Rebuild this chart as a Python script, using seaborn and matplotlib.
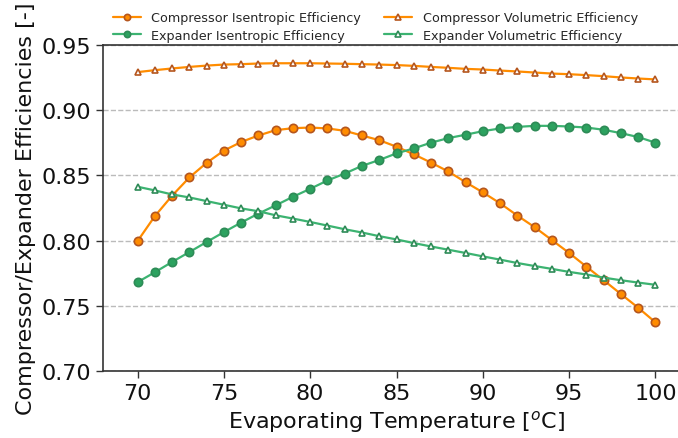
import numpy as np
import pandas as pd
import matplotlib
matplotlib.use("Agg")
import matplotlib.pyplot as plt
import seaborn as sns

temperature = list(range(70, 101))

comp_isen = [0.7996, 0.8187, 0.8344, 0.8484, 0.8596, 0.8690, 0.8756, 0.8806, 0.8847, 0.8862,
             0.8867, 0.8860, 0.8842, 0.8806, 0.8770, 0.8720, 0.8662, 0.8598, 0.8530, 0.8448,
             0.8370, 0.8286, 0.8192, 0.8103, 0.8004, 0.7905, 0.7800, 0.7696, 0.7590, 0.7485,
             0.7373]
comp_vol = [0.9292, 0.9307, 0.9320, 0.9332, 0.9342, 0.9350, 0.9353, 0.9358, 0.9360, 0.9360,
            0.9360, 0.9358, 0.9356, 0.9353, 0.9350, 0.9346, 0.9340, 0.9332, 0.9325, 0.9317,
            0.9312, 0.9304, 0.9297, 0.9289, 0.9281, 0.9276, 0.9269, 0.9261, 0.9251, 0.9243,
            0.9236]
exp_isen = [0.7681, 0.7757, 0.7836, 0.7912, 0.7989, 0.8065, 0.8138, 0.8207, 0.8270, 0.8336,
            0.8397, 0.8461, 0.8514, 0.8573, 0.8618, 0.8669, 0.8707, 0.8751, 0.8786, 0.8812,
            0.8839, 0.8860, 0.8872, 0.8880, 0.8880, 0.8875, 0.8867, 0.8850, 0.8824, 0.8794,
            0.8751]
exp_vol = [0.8413, 0.8385, 0.8354, 0.8331, 0.8303, 0.8275, 0.8247, 0.8225, 0.8194, 0.8169,
           0.8143, 0.8115, 0.8087, 0.8062, 0.8034, 0.8009, 0.7981, 0.7955, 0.7930, 0.7905,
           0.7879, 0.7854, 0.7828, 0.7805, 0.7783, 0.7760, 0.7740, 0.7716, 0.7696, 0.7678,
           0.7661]

labels = ["Compressor Isentropic Efficiency", "Compressor Volumetric Efficiency",
          "Expander Isentropic Efficiency", "Expander Volumetric Efficiency"]
y_ticks = [0.70, 0.75, 0.80, 0.85, 0.90, 0.95]
x_ticks = [70, 75, 80, 85, 90, 95, 100]

sns.set_style("ticks")
plt.rcParams['font.family'] = ['DejaVu Sans']

fig = plt.figure(figsize=(6.78, 4.39), dpi=100)
ax = fig.add_axes([103 / 678, 67 / 439, 587 / 678, 326 / 439])

orange = "#ff8c00"
orange_edge = "#b5561e"
green = "#3cb371"
green_edge = "#2e8b57"

styles = [
    dict(color=orange, marker="o", ms=6, mfc=orange, mec=orange_edge),
    dict(color=orange, marker="^", ms=5, mfc="white", mec=orange_edge),
    dict(color=green, marker="o", ms=6, mfc="#2ca25f", mec=green_edge),
    dict(color=green, marker="^", ms=5, mfc="white", mec=green_edge),
]
series = [comp_isen, comp_vol, exp_isen, exp_vol]

for vals, lab, st in zip(series, labels, styles):
    df = pd.DataFrame({"T": temperature, "eff": vals})
    sns.lineplot(data=df, x="T", y="eff", ax=ax, label=lab, color=st["color"],
                 marker=st["marker"], markersize=st["ms"], markerfacecolor=st["mfc"],
                 markeredgecolor=st["mec"], markeredgewidth=1.2, linewidth=1.6)

ax.set_xlim(68, 102)
ax.set_ylim(0.70, 0.95)
ax.set_xticks(x_ticks)
ax.set_yticks(y_ticks)
ax.set_yticklabels([f"{v:.2f}" for v in y_ticks])
ax.tick_params(axis="both", labelsize=16, length=5, width=1, color="#333333",
               labelcolor="#111111")
ax.yaxis.grid(True, linestyle="--", color="#bbbbbb", linewidth=1)
ax.set_axisbelow(True)
for s in ["left", "bottom", "top"]:
    ax.spines[s].set_color("#333333")
    ax.spines[s].set_linewidth(1.2)
ax.spines["right"].set_visible(False)

ax.set_xlabel("Evaporating Temperature [$^o$C]", fontsize=16, color="#111111")
ax.set_ylabel("Compressor/Expander Efficiencies [-]", fontsize=16, color="#111111")

handles, labs = ax.get_legend_handles_labels()
order = [0, 2, 1, 3]
leg = ax.legend([handles[i] for i in order], [labs[i] for i in order], ncol=2,
                loc="lower center", bbox_to_anchor=(0.464, 0.99), frameon=False,
                fontsize=9.2, markerscale=0.75, columnspacing=1.8, handlelength=2.2,
                borderaxespad=0.1, labelspacing=0.35)

fig.savefig("out.png", dpi=100)
